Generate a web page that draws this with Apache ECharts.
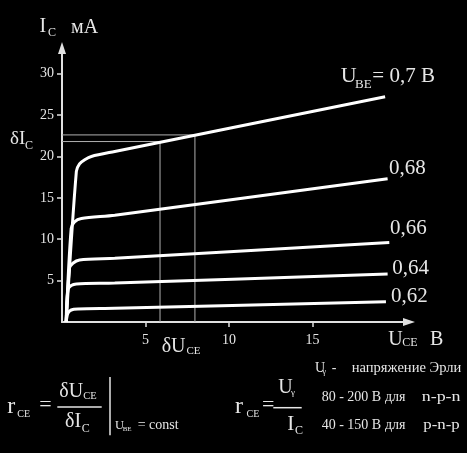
<!DOCTYPE html>
<html>
<head>
<meta charset="utf-8">
<script src="https://cdn.jsdelivr.net/npm/echarts@6/dist/echarts.min.js"></script>
<style>
html,body{margin:0;padding:0;background:#000;}
#c{width:467px;height:453px;}
</style>
</head>
<body>
<div id="c"></div>
<script>
// ---- data ----
const xTicks = [5, 10, 15];
const yTicks = [5, 10, 15, 20, 25, 30];
const ubeLabels = ['0,7 В', '0,68', '0,66', '0,64', '0,62'];
const curve070 = [[0.25,0],[0.86,18.2],[1.05,19.1],[1.36,19.6],[1.76,20.0],[3.16,20.6],[19.35,27.2]];
const curve068 = [[0.25,0],[0.55,11.3],[0.75,12.1],[1.16,12.5],[3.16,12.9],[19.5,17.3]];
const curve066 = [[0.25,0],[0.45,6.5],[0.65,7.1],[1.05,7.5],[3.16,7.7],[19.6,9.6]];
const curve064 = [[0.25,0],[0.35,3.9],[0.55,4.4],[0.86,4.6],[3.16,4.7],[19.5,5.8]];
const curve062 = [[0.25,0],[0.35,1.05],[0.55,1.45],[0.95,1.57],[3.16,1.65],[19.4,2.45]];
const deltaU = [5.87, 7.96];
const deltaI = [21.8, 22.6];

const curves = [curve070, curve068, curve066, curve064, curve062];
const TXT = '#e6e6e6';
const FONT = '"Liberation Serif", "Times New Roman", serif';

function T(text, x, bl, fs, extra) {
  return Object.assign({
    type: 'text', x: x, y: bl - 0.34 * fs, silent: true,
    style: { text: text, fill: TXT, font: fs + 'px ' + FONT, align: 'left', verticalAlign: 'middle' }
  }, extra || {});
}
function L(x1, y1, x2, y2, w) {
  return { type: 'line', silent: true, shape: { x1, y1, x2, y2 }, style: { stroke: TXT, lineWidth: w || 1.5 } };
}

const series = curves.map(c => ({
  type: 'line', data: c, symbol: 'none', smooth: 0.3,
  lineStyle: { color: '#fff', width: 3 }, z: 3, silent: true
}));
deltaU.forEach((u, i) => {
  series.push({
    type: 'line', data: [[0, deltaI[i]], [u, deltaI[i]], [u, 0]], symbol: 'none',
    lineStyle: { color: '#b0b0b0', width: 1 }, z: 2, silent: true
  });
});

const graphic = [
  T('I', 39.5, 34, 20), T('C', 48, 37, 12), T('мА', 71, 34.5, 20),
  T('δI', 10, 145, 19), T('C', 25, 149.5, 12),
  T('δU', 161.7, 353.3, 20), T('CE', 186.5, 354.5, 11),
  T('U', 388.3, 346.7, 20), T('CE', 402.3, 347.3, 12), T('В', 430, 346.7, 20),
  T('U', 340.7, 84, 22), T('BE', 355, 89.3, 13), T('= ' + ubeLabels[0], 372.3, 84, 21),
  T(ubeLabels[1], 389, 176, 21), T(ubeLabels[2], 390, 236, 21),
  T(ubeLabels[3], 392.3, 275.7, 21), T(ubeLabels[4], 391, 304, 21),
  // left formula
  T('r', 7.3, 415.3, 24), T('CE', 17.3, 417.7, 10), T('=', 39.3, 413, 22),
  T('δU', 59.3, 398.7, 20), T('CE', 83.3, 400.3, 10.5),
  L(57.3, 407, 101.7, 407),
  T('δI', 65, 428.7, 20), T('C', 81.7, 433, 12),
  L(110, 377, 110, 435.3),
  T('U', 115, 430, 12.5), T('BE', 122.7, 431.5, 7), T('= const', 137.7, 430, 14),
  // right formula
  T('r', 235, 415.3, 24), T('CE', 246.5, 417.7, 10), T('=', 262, 413, 22),
  T('U', 278.3, 394.5, 20), T('γ', 291, 396, 9),
  L(273.3, 407.7, 301.7, 407.7),
  T('I', 287.3, 431.7, 21), T('C', 295, 435, 12),
  T('U', 315, 373.3, 14), T('γ', 322.5, 375, 8), T('-', 331.7, 373.3, 14), T('напряжение Эрли', 351.7, 373.3, 14, { scaleX: 1.04 }),
  T('80 - 200 В', 321.7, 401.7, 14), T('для', 385, 401.7, 14), T('n-p-n', 421.7, 401.7, 14, { scaleX: 1.28 }),
  T('40 - 150 В', 321.7, 430, 14), T('для', 385, 430, 14), T('p-n-p', 423.3, 430, 14, { scaleX: 1.2 })
];

const axisCommon = {
  type: 'value', min: 0, interval: 5,
  splitLine: { show: false },
  axisLine: { show: true, lineStyle: { color: '#e0e0e0', width: 2 }, symbol: ['none', 'triangle'], symbolSize: [8, 12] },
  axisTick: { show: true, length: 5, lineStyle: { color: '#e0e0e0', width: 1.5 } },
  axisLabel: { color: TXT, fontFamily: FONT, fontSize: 14 }
};

const chart = echarts.init(document.getElementById('c'), null, { renderer: 'canvas' });
chart.setOption({
  backgroundColor: '#000',
  animation: false,
  grid: { left: 62, right: 58, top: 48, bottom: 131, containLabel: false },
  xAxis: Object.assign({}, axisCommon, {
    max: 20.78,
    axisTick: Object.assign({}, axisCommon.axisTick, { customValues: xTicks }),
    axisLabel: Object.assign({}, axisCommon.axisLabel, { customValues: xTicks, margin: 11 })
  }),
  yAxis: Object.assign({}, axisCommon, {
    max: 33.1,
    axisTick: Object.assign({}, axisCommon.axisTick, { customValues: yTicks }),
    axisLabel: Object.assign({}, axisCommon.axisLabel, { customValues: yTicks, margin: 8 })
  }),
  series: series,
  graphic: graphic
});
</script>
</body>
</html>
